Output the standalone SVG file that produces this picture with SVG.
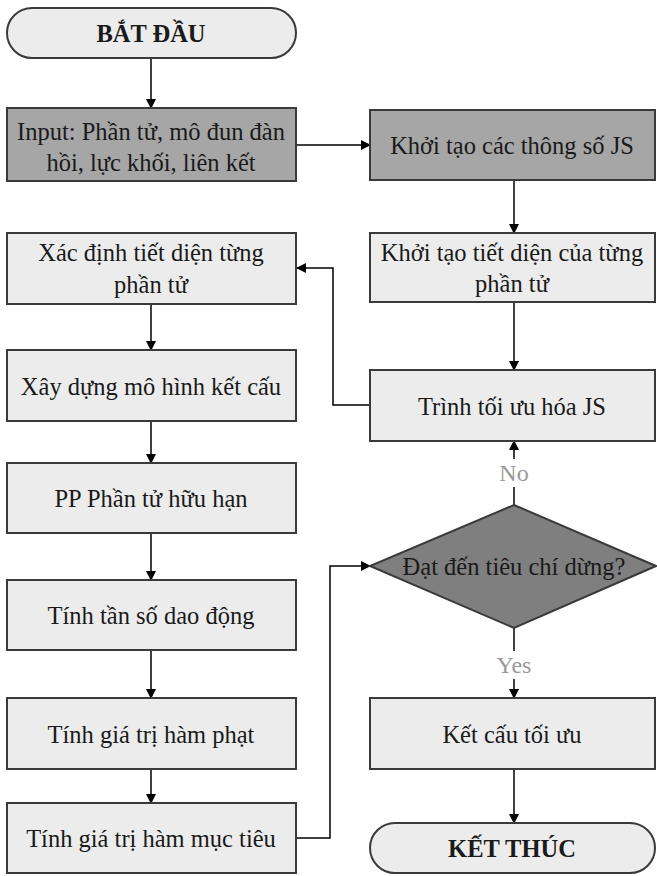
<svg xmlns="http://www.w3.org/2000/svg" width="657" height="876" viewBox="0 0 657 876" font-family="'Liberation Serif', 'Times New Roman', 'DejaVu Serif', serif">
<defs>
<marker id="ah" markerWidth="10" markerHeight="10" refX="9" refY="5" orient="auto" markerUnits="userSpaceOnUse">
<path d="M0,0 L10,5 L0,10 Z" fill="#000"/>
</marker>
<style>
text{font-family:'Liberation Serif','Times New Roman','DejaVu Serif',serif;}
.t{font-size:24.5px;fill:#1a1a1a;text-anchor:middle;}
.b{font-weight:bold;}
.lb{fill:#ececec;stroke:#3a3a3a;stroke-width:2;}
.db{fill:#a6a6a6;stroke:#3a3a3a;stroke-width:2;}
.dm{fill:#7f7f7f;stroke:#3a3a3a;stroke-width:2;}
.c{fill:none;stroke:#000;stroke-width:1.5;marker-end:url(#ah);}
.cl{fill:#999;font-size:24px;text-anchor:middle;}
</style>
</defs>
<rect width="657" height="876" fill="#fff"/>
<g id="connectors">
<line class="c" x1="151" y1="58" x2="151" y2="108"/>
<line class="c" x1="296" y1="145" x2="370" y2="145"/>
<line class="c" x1="514" y1="181" x2="514" y2="233"/>
<line class="c" x1="514" y1="302" x2="514" y2="370"/>
<polyline class="c" points="370,405 333,405 333,268 297,268"/>
<line class="c" x1="514" y1="505" x2="514" y2="441"/>
<line class="c" x1="514" y1="628" x2="514" y2="698"/>
<line class="c" x1="514" y1="769" x2="514" y2="823"/>
<line class="c" x1="151" y1="304" x2="151" y2="350"/>
<line class="c" x1="151" y1="421" x2="151" y2="463"/>
<line class="c" x1="151" y1="533" x2="151" y2="580"/>
<line class="c" x1="151" y1="650" x2="151" y2="698"/>
<line class="c" x1="151" y1="769" x2="151" y2="803"/>
<polyline class="c" points="296,838 330,838 330,566 370,566"/>
<rect x="497" y="459" width="34" height="28" fill="#fff"/>
<text class="cl" x="514" y="481">No</text>
<rect x="493" y="651" width="42" height="28" fill="#fff"/>
<text class="cl" x="514" y="673">Yes</text>
</g>
<g id="start">
<rect class="lb" x="7" y="8" width="289" height="50" rx="25"/>
<text class="t b" x="151" y="42">BẮT ĐẦU</text>
</g>
<g id="input">
<rect class="db" x="7" y="108" width="289" height="73"/>
<text class="t" x="151" y="140">Input: Phần tử, mô đun đàn</text>
<text class="t" x="151" y="171">hồi, lực khối, liên kết</text>
</g>
<g id="init-js">
<rect class="db" x="370" y="110" width="285" height="70"/>
<text class="t" x="512" y="154">Khởi tạo các thông số JS</text>
</g>
<g id="init-section">
<rect class="lb" x="370" y="233" width="285" height="69"/>
<text class="t" x="512" y="261">Khởi tạo tiết diện của từng</text>
<text class="t" x="512" y="292">phần tử</text>
</g>
<g id="optimizer">
<rect class="lb" x="370" y="370" width="285" height="71"/>
<text class="t" x="512" y="415">Trình tối ưu hóa JS</text>
</g>
<g id="decision">
<polygon class="dm" points="514,505 656,566 514,628 370,566"/>
<text class="t" x="514" y="575">Đạt đến tiêu chí dừng?</text>
</g>
<g id="optimal">
<rect class="lb" x="370" y="698" width="285" height="71"/>
<text class="t" x="512" y="743">Kết cấu tối ưu</text>
</g>
<g id="end">
<rect class="lb" x="370" y="823" width="285" height="50" rx="25"/>
<text class="t b" x="512" y="857">KẾT THÚC</text>
</g>
<g id="section">
<rect class="lb" x="7" y="233" width="289" height="71"/>
<text class="t" x="151" y="261">Xác định tiết diện từng</text>
<text class="t" x="151" y="293">phần tử</text>
</g>
<g id="model">
<rect class="lb" x="7" y="350" width="289" height="71"/>
<text class="t" x="151" y="395">Xây dựng mô hình kết cấu</text>
</g>
<g id="fem">
<rect class="lb" x="7" y="463" width="289" height="70"/>
<text class="t" x="151" y="507">PP Phần tử hữu hạn</text>
</g>
<g id="freq">
<rect class="lb" x="7" y="580" width="289" height="70"/>
<text class="t" x="151" y="624">Tính tần số dao động</text>
</g>
<g id="penalty">
<rect class="lb" x="7" y="698" width="289" height="71"/>
<text class="t" x="151" y="743">Tính giá trị hàm phạt</text>
</g>
<g id="objective">
<rect class="lb" x="7" y="803" width="289" height="70"/>
<text class="t" x="151" y="847">Tính giá trị hàm mục tiêu</text>
</g>
</svg>
